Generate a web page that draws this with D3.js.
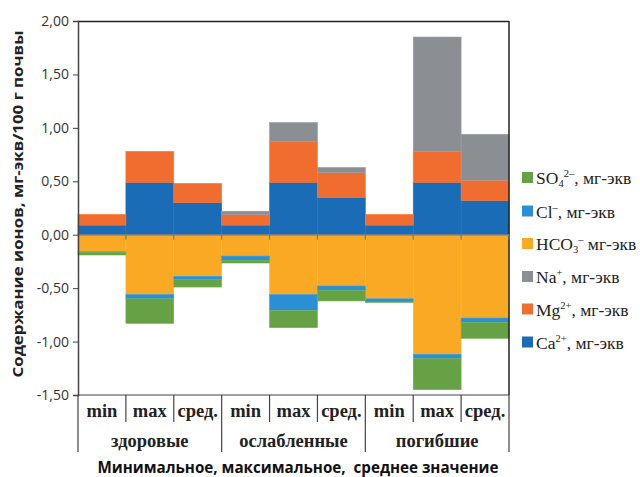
<!DOCTYPE html>
<html><head><meta charset="utf-8">
<script src="https://cdn.jsdelivr.net/npm/d3@7"></script>
<style>body{margin:0;background:#fff}svg{display:block}</style>
</head><body>
<svg id="c" width="640" height="477"></svg>
<script>
const groups = ["здоровые", "ослабленные", "погибшие"];
const subcats = ["min", "max", "сред."];
const yTicks = [2.0, 1.5, 1.0, 0.5, 0.0, -0.5, -1.0, -1.5];
// positive series (stacked upward)
const Ca  = [0.09, 0.49, 0.30, 0.09, 0.49, 0.35, 0.09, 0.49, 0.32];
const Mg  = [0.10, 0.29, 0.18, 0.10, 0.38, 0.23, 0.10, 0.29, 0.19];
const Na  = [0.00, 0.00, 0.00, 0.03, 0.18, 0.05, 0.00, 1.07, 0.43];
// negative series (stacked downward)
const HCO3 = [-0.16, -0.56, -0.39, -0.20, -0.56, -0.48, -0.60, -1.12, -0.78];
const Cl   = [-0.005, -0.04, -0.03, -0.04, -0.15, -0.04, -0.03, -0.04, -0.04];
const SO4  = [-0.025, -0.23, -0.07, -0.025, -0.16, -0.10, -0.003, -0.29, -0.15];

const series = [
  {key:"Ca", vals:Ca, color:"#1b6cb6"},
  {key:"Mg", vals:Mg, color:"#f06c2f"},
  {key:"Na", vals:Na, color:"#8b8e92"},
  {key:"HCO3", vals:HCO3, color:"#f9a923"},
  {key:"Cl", vals:Cl, color:"#2a8fd4"},
  {key:"SO4", vals:SO4, color:"#67a145"}
];

const cats = [];
groups.forEach((g,gi)=>subcats.forEach((s,si)=>cats.push({g,s,i:gi*3+si})));

const svg = d3.select("#c");
const L = 78, R = 509, T = 21, B = 395;
const x = d3.scaleBand().domain(d3.range(cats.length)).range([L, R]).padding(0);
const y = d3.scaleLinear().domain([-1.5, 2.0]).range([B, T]);

// stacked bars
const posAcc = new Array(cats.length).fill(0);
const negAcc = new Array(cats.length).fill(0);
series.forEach(s=>{
  s.vals.forEach((v,i)=>{
    let y0, y1;
    if (v >= 0) { y0 = posAcc[i]; y1 = y0 + v; posAcc[i] = y1; }
    else { y0 = negAcc[i]; y1 = y0 + v; negAcc[i] = y1; }
    if (Math.abs(v) < 1e-9) return;
    svg.append("rect")
      .attr("x", x(i)).attr("width", x.bandwidth())
      .attr("y", y(Math.max(y0,y1))).attr("height", Math.abs(y(y0)-y(y1)))
      .attr("fill", s.color)
      .attr("stroke", d3.color(s.color).brighter(0.3)).attr("stroke-width", 0.6);
  });
});

// frame
svg.append("line").attr("x1",L).attr("x2",R).attr("y1",T+0.5).attr("y2",T+0.5).attr("stroke","#222").attr("stroke-width",1.5);
svg.append("line").attr("x1",R).attr("x2",R).attr("y1",T).attr("y2",B).attr("stroke","#222").attr("stroke-width",1.5);
svg.append("line").attr("x1",L).attr("x2",R).attr("y1",B).attr("y2",B).attr("stroke","#444").attr("stroke-width",1.2);

// zero line with ticks
const zg = svg.append("g");
zg.append("line").attr("x1",L).attr("x2",R).attr("y1",y(0)).attr("y2",y(0)).attr("stroke","#6f7a86").attr("stroke-width",1.5);
d3.range(1, cats.length+1).forEach(i=>{
  const xx = i < cats.length ? x(i) : R;
  zg.append("line").attr("x1",xx).attr("x2",xx).attr("y1",y(0)).attr("y2",y(0)+5).attr("stroke","#5b7fa6").attr("stroke-width",1.2);
});

// y axis
const ya = d3.axisLeft(y).tickValues(yTicks).tickSize(5).tickFormat(d=>d3.format(".2f")(d).replace(".",",").replace("−","-"));
const yg = svg.append("g").attr("transform",`translate(${L},0)`).call(ya);
yg.select(".domain").attr("stroke","#444").attr("stroke-width",1.5);
yg.selectAll(".tick line").attr("stroke","#444");
yg.selectAll(".tick text").attr("font-family","Open Sans, sans-serif").attr("font-size",14).attr("fill","#333").attr("x",-9);

// y title
svg.append("text").attr("transform","translate(23,204) rotate(-90)")
  .attr("text-anchor","middle").attr("font-family","Open Sans, sans-serif").attr("font-weight","bold")
  .attr("font-size",14.5).attr("fill","#222")
  .attr("textLength",347).attr("lengthAdjust","spacingAndGlyphs")
  .text("Содержание ионов, мг-экв/100 г почвы");

// category table under plot
const tbl = svg.append("g");
tbl.append("line").attr("x1",L).attr("x2",L).attr("y1",B).attr("y2",452).attr("stroke","#444").attr("stroke-width",1.2);
d3.range(1, cats.length+1).forEach(i=>{
  const xx = i < cats.length ? x(i) : R;
  const isGroup = i % 3 === 0;
  tbl.append("line").attr("x1",xx).attr("x2",xx).attr("y1",B).attr("y2", isGroup ? 452 : 422)
    .attr("stroke","#444").attr("stroke-width",1.2);
});
cats.forEach(c=>{
  tbl.append("text").attr("x", x(c.i)+x.bandwidth()/2).attr("y", 417)
    .attr("text-anchor","middle").attr("font-family","Liberation Serif, serif").attr("font-weight","bold")
    .attr("font-size",18.5).attr("fill","#222").text(c.s);
});
groups.forEach((g,gi)=>{
  tbl.append("text").attr("x", (x(gi*3) + x(gi*3+2)+x.bandwidth())/2).attr("y", 447)
    .attr("text-anchor","middle").attr("font-family","Liberation Serif, serif").attr("font-weight","bold")
    .attr("font-size",18.5).attr("fill","#222").text(g);
});

// x title
svg.append("text").attr("x", 298).attr("y", 473).attr("text-anchor","middle")
  .attr("font-family","Open Sans, sans-serif").attr("font-weight","bold").attr("font-size",15.2).attr("fill","#111")
  .attr("xml:space","preserve").text("Минимальное, максимальное,  среднее значение");

// legend
const legendItems = [
  {key:"SO4", parts:[["SO",""],["4","sub"],["2–","sup"],[", мг-экв",""]]},
  {key:"Cl", parts:[["Cl",""],["–","sup"],[", мг-экв",""]]},
  {key:"HCO3", parts:[["HCO",""],["3","sub"],["–","sup"],[" мг-экв",""]]},
  {key:"Na", parts:[["Na",""],["+","sup"],[", мг-экв",""]]},
  {key:"Mg", parts:[["Mg",""],["2+","sup"],[", мг-экв",""]]},
  {key:"Ca", parts:[["Ca",""],["2+","sup"],[", мг-экв",""]]}
];
const legY = [177.5, 211, 243.5, 276.5, 309, 342];
legendItems.forEach((it,k)=>{
  const s = series.find(d=>d.key===it.key);
  const g = svg.append("g").attr("transform",`translate(522,${legY[k]})`);
  g.append("rect").attr("x",0).attr("y",-5.5).attr("width",11).attr("height",11).attr("fill",s.color);
  const t = g.append("text").attr("x",14).attr("y",6.5).attr("font-family","Liberation Serif, serif")
    .attr("font-size",17.5).attr("fill","#222");
  let shift = 0;
  it.parts.forEach(([txt,kind])=>{
    const dy = kind==="sub" ? 3 : kind==="sup" ? -7 : 0;
    const ts = t.append("tspan").attr("dy", dy - shift).text(txt);
    if (kind) ts.attr("font-size",10.5);
    shift = dy;
  });
});
</script>
</body></html>
